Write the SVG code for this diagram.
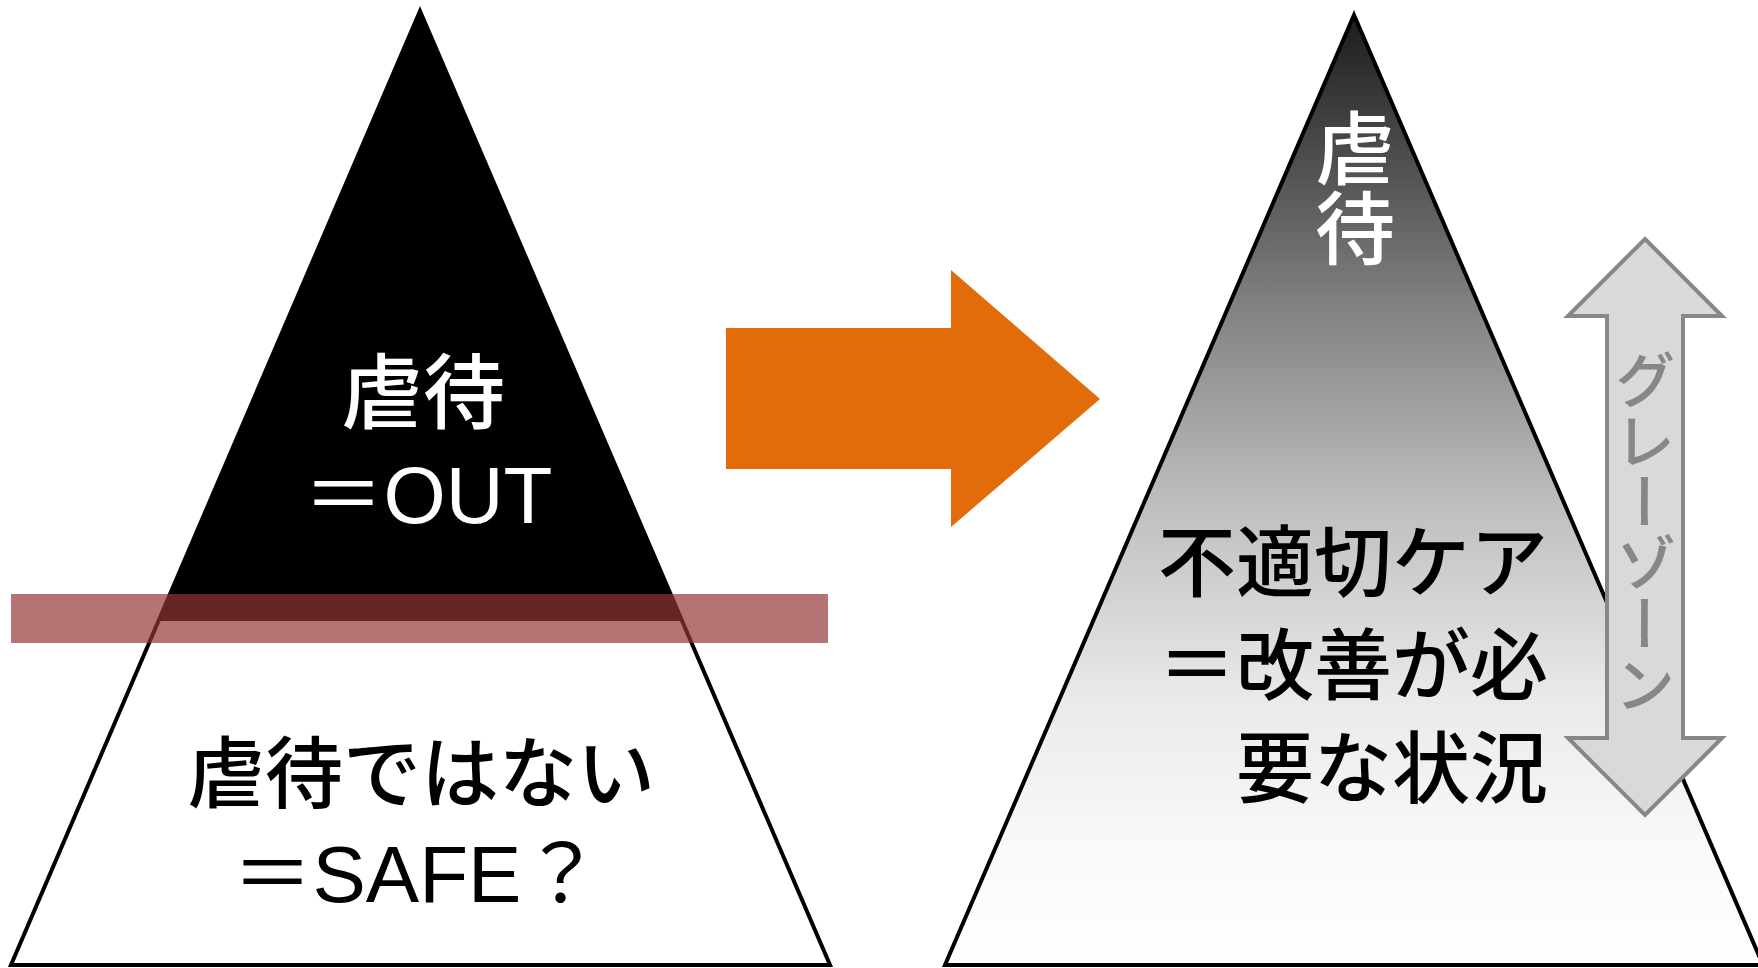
<svg xmlns="http://www.w3.org/2000/svg" width="1758" height="968" viewBox="0 0 1758 968">
<style>
.jp{font-family:"Noto Sans CJK JP","Liberation Sans",sans-serif;font-weight:500;}
.mix{font-family:"Liberation Sans","Noto Sans CJK JP",sans-serif;}
.w{fill:#ffffff;}
.b{fill:#000000;}
.outline{stroke:#000000;stroke-width:4;stroke-linejoin:miter;}
.vert{writing-mode:vertical-rl;}
</style>
<defs>
<linearGradient id="gr" gradientUnits="userSpaceOnUse" x1="0" y1="15" x2="0" y2="965">
<stop offset="0" stop-color="#1c1c1c"/>
<stop offset="0.3" stop-color="#7f7f7f"/>
<stop offset="0.51" stop-color="#bdbdbd"/>
<stop offset="0.72" stop-color="#eaeaea"/>
<stop offset="0.88" stop-color="#f9f9f9"/>
<stop offset="1" stop-color="#ffffff"/>
</linearGradient>
</defs>
<g id="left-pyramid">
<polygon points="420,11 11,965 830,965" fill="#ffffff" class="outline"/>
<polygon points="420,11 158.6,621 682,621" fill="#000000"/>
<text class="jp w" x="423" y="422" font-size="82" text-anchor="middle">虐待</text>
<text class="mix w" x="428" y="523" font-size="80" text-anchor="middle">＝OUT</text>
<text class="jp b" x="421" y="802" font-size="78" text-anchor="middle">虐待ではない</text>
<text class="mix b" x="417" y="902" font-size="80" text-anchor="middle">＝SAFE？</text>
</g>
<g id="boundary-band">
<rect x="11" y="594" width="817" height="49" fill="#943634" fill-opacity="0.69"/>
</g>
<g id="connectors">
<polygon id="orange-arrow" points="726,328 951,328 951,270 1100,399 951,527 951,469 726,469" fill="#E36C0A"/>
</g>
<g id="right-pyramid">
<polygon points="1354,15 945,965 1763,965" fill="url(#gr)" class="outline"/>
<text class="jp w vert" x="1355" y="188" font-size="80" text-anchor="middle" writing-mode="tb">虐待</text>
<text class="jp b" x="1548" y="591" font-size="78" text-anchor="end">不適切ケア</text>
<text class="jp b" x="1548" y="694" font-size="78" text-anchor="end">＝改善が必</text>
<text class="jp b" x="1548" y="797" font-size="78" text-anchor="end">要な状況</text>
</g>
<g id="grey-zone-arrow">
<polygon points="1645,239 1722,316 1683,316 1683,738 1722,738 1645,815 1568,738 1607,738 1607,316 1568,316" fill="#d9d9d9" stroke="#878787" stroke-width="4"/>
<text class="jp vert" x="1645" y="532" font-size="61" fill="#878787" text-anchor="middle" writing-mode="tb">グレーゾーン</text>
</g>
</svg>
